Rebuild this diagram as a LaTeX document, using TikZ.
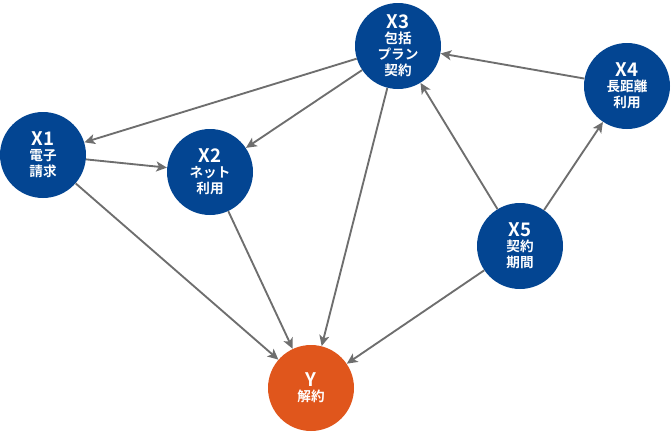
\documentclass[tikz,border=0pt]{standalone}
\usepackage{fontspec}
\setmainfont{Noto Sans CJK JP}[BoldFont={Noto Sans CJK JP Bold}]
\usetikzlibrary{arrows.meta}
\definecolor{nodeblue}{HTML}{034592}
\definecolor{nodeorange}{HTML}{E0561C}
\definecolor{edgegray}{HTML}{6E6E6E}
\tikzset{
  var/.style={circle, fill=nodeblue, text=white, minimum size=64.5pt, inner sep=0pt,
    align=center, font=\bfseries\fontsize{10.2pt}{12pt}\selectfont},
  target/.style={var, fill=nodeorange},
  edge/.style={draw=edgegray, line width=1.4pt, -{Stealth[length=8pt, width=7.5pt, inset=2pt]}}
}
\newcommand{\varname}[1]{{\fontsize{14pt}{15pt}\selectfont #1}\\[-0.5pt]}
\begin{document}
\begin{tikzpicture}[x=0.75pt, y=-0.75pt]
  \useasboundingbox (0,0) rectangle (672,436);

  % Variables
  \node[var] (x3) at (398, 46) {\varname{X3}包括\\プラン\\契約};
  \node[var] (x4) at (627, 86) {\varname{X4}長距離\\利用};
  \node[var] (x1) at (43, 155) {\varname{X1}電子\\請求};
  \node[var] (x2) at (210, 172) {\varname{X2}ネット\\利用};
  \node[var] (x5) at (520, 246) {\varname{X5}契約\\期間};
  \node[target] (y) at (311, 388) {\varname{Y}解約};

  % Edges
  \draw[edge] (x3) -- (x1);
  \draw[edge] (x3) -- (x2);
  \draw[edge] (x3) -- (y);
  \draw[edge] (x1) -- (x2);
  \draw[edge] (x1) -- (y);
  \draw[edge] (x2) -- (y);
  \draw[edge] (x4) -- (x3);
  \draw[edge] (x5) -- (x3);
  \draw[edge] (x5) -- (x4);
  \draw[edge] (x5) -- (y);
\end{tikzpicture}
\end{document}
